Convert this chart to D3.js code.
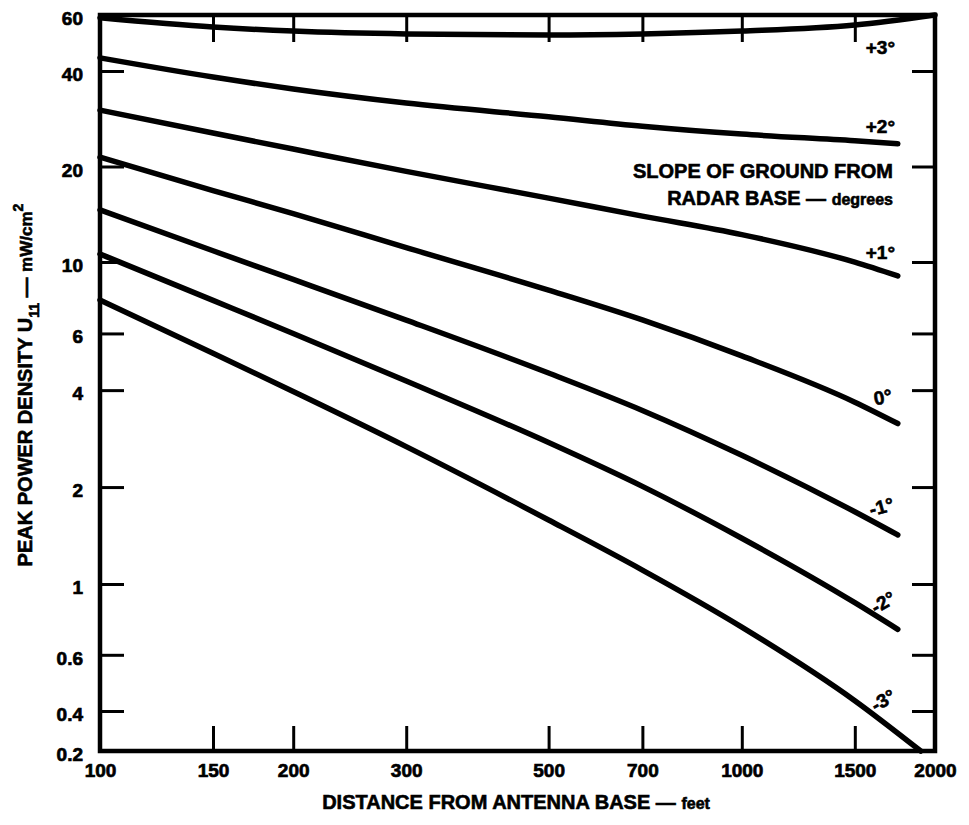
<!DOCTYPE html>
<html>
<head>
<meta charset="utf-8">
<script src="https://cdn.jsdelivr.net/npm/d3@7"></script>
<style>
  html, body { margin: 0; padding: 0; background: #fff; }
  svg { display: block; }
  text { font-family: "Liberation Sans", Arial, sans-serif; font-weight: bold; fill: #000; }
</style>
</head>
<body>
<svg id="chart" width="969" height="825"></svg>
<script>
// Distance from antenna base (feet) at which each curve is sampled
const distances = [100, 150, 200, 300, 500, 700, 1000, 1500, 1750];
const distancesPlus3 = [100, 150, 200, 300, 500, 700, 1000, 1500, 2000];
const distancesMinus3 = [100, 150, 200, 300, 500, 700, 1000, 1500, 1900];

// Peak power density U11 (mW/cm²) for each slope of ground
const plus3 = [58.8, 55.0, 53.4, 52.3, 51.9, 52.3, 53.4, 55.8, 60];
const plus2 = [44.0, 38.3, 35.1, 31.7, 28.7, 26.8, 25.3, 24.1, 23.6];
const plus1 = [30.1, 25.5, 22.7, 19.3, 15.9, 13.95, 12.2, 9.99, 9.05];
const zero = [21.4, 16.8, 14.2, 11.1, 8.18, 6.61, 5.11, 3.67, 3.15];
const minus1 = [14.6, 10.85, 8.83, 6.60, 4.52, 3.46, 2.51, 1.676, 1.42];
const minus2 = [10.6, 7.60, 6.0, 4.27, 2.75, 2.01, 1.387, 0.874, 0.721];
const minus3 = [7.62, 5.21, 3.96, 2.67, 1.58, 1.105, 0.733, 0.431, 0.2];

const slopeLabels = ["+3°", "+2°", "+1°", "0°", "-1°", "-2°", "-3°"];

// Axis ticks
const xTickValues = [100, 150, 200, 300, 500, 700, 1000, 1500, 2000];
const yTickValues = [0.2, 0.4, 0.6, 1, 2, 4, 6, 10, 20, 40, 60];

const series = [
  { label: slopeLabels[0], xs: distancesPlus3, ys: plus3 },
  { label: slopeLabels[1], xs: distances, ys: plus2 },
  { label: slopeLabels[2], xs: distances, ys: plus1 },
  { label: slopeLabels[3], xs: distances, ys: zero },
  { label: slopeLabels[4], xs: distances, ys: minus1 },
  { label: slopeLabels[5], xs: distances, ys: minus2 },
  { label: slopeLabels[6], xs: distancesMinus3, ys: minus3 }
];

const svg = d3.select("#chart");
const plotLeft = 100, plotRight = 935, plotTop = 15, plotBottom = 751;

const x = d3.scaleLog().domain([100, 2000]).range([plotLeft, plotRight]);
// Logarithmic scale, compressed at both ends of the printed axis
const y = d3.scaleLog()
  .domain([0.2, 0.4, 1, 10, 40, 60])
  .range([plotBottom, 711, 584, 262, 71, plotTop]);

// Inward ticks on all four sides
const yInner = yTickValues.filter(v => v > 0.2 && v < 60);
const xInner = xTickValues.filter(v => v > 100 && v < 2000);

const leftAxis = svg.append("g").attr("transform", `translate(${plotLeft},0)`)
  .call(d3.axisLeft(y).tickValues(yTickValues).tickSizeInner(-24).tickSizeOuter(0)
    .tickPadding(17).tickFormat(d => String(d)));
leftAxis.selectAll(".tick line").filter(d => d === 0.2 || d === 60).remove();

svg.append("g").attr("transform", `translate(${plotRight},0)`)
  .call(d3.axisRight(y).tickValues(yInner).tickSizeInner(-23).tickSizeOuter(0).tickFormat(""));

const bottomAxis = svg.append("g").attr("transform", `translate(0,${plotBottom})`)
  .call(d3.axisBottom(x).tickValues(xTickValues).tickSizeInner(-25).tickSizeOuter(0)
    .tickPadding(13).tickFormat(d => String(d)));
bottomAxis.selectAll(".tick line").filter(d => d === 100 || d === 2000).remove();

svg.append("g").attr("transform", `translate(0,${plotTop})`)
  .call(d3.axisTop(x).tickValues(xInner).tickSizeInner(-27).tickSizeOuter(0).tickFormat(""));

svg.selectAll(".domain").remove();
svg.selectAll(".tick line").attr("stroke", "#000").attr("stroke-width", 3);
svg.selectAll(".tick text")
  .style("font-size", "19px").style("font-family", "'Liberation Sans', Arial, sans-serif")
  .style("font-weight", "bold").attr("fill", "#000")
  .attr("stroke", "#000").attr("stroke-width", 0.7);
leftAxis.selectAll(".tick text").attr("dy", "0.5em");

// Plot frame
svg.append("rect")
  .attr("x", plotLeft).attr("y", plotTop)
  .attr("width", plotRight - plotLeft).attr("height", plotBottom - plotTop)
  .attr("fill", "none").attr("stroke", "#000").attr("stroke-width", 4.5);

// Curves
const line = d3.line()
  .x(d => x(d[0]))
  .y(d => y(d[1]))
  .curve(d3.curveMonotoneX);

svg.append("g").selectAll("path")
  .data(series)
  .join("path")
  .attr("d", s => line(s.xs.map((v, i) => [v, s.ys[i]])))
  .attr("fill", "none")
  .attr("stroke", "#000")
  .attr("stroke-width", 5.5)
  .attr("stroke-linecap", "round");

// Slope labels near the curve ends
const labelPos = [
  { x: 895, y: 54, r: 0 },
  { x: 895, y: 133, r: 0 },
  { x: 895, y: 259, r: 0 },
  { x: 893, y: 402, r: -10 },
  { x: 895, y: 510, r: -15 },
  { x: 897, y: 602, r: -30 },
  { x: 897, y: 700, r: -30 }
];
svg.append("g").selectAll("text")
  .data(series)
  .join("text")
  .attr("transform", (s, i) => `translate(${labelPos[i].x},${labelPos[i].y}) rotate(${labelPos[i].r})`)
  .attr("text-anchor", "end")
  .style("font-size", "19px")
  .attr("stroke", "#000").attr("stroke-width", 0.6)
  .text(s => s.label);

// Legend note
svg.append("text")
  .attr("x", 893).attr("y", 178)
  .attr("text-anchor", "end")
  .style("font-size", "20px")
  .attr("stroke", "#000").attr("stroke-width", 0.6)
  .text("SLOPE OF GROUND FROM");
const note2 = svg.append("text")
  .attr("x", 893).attr("y", 205)
  .attr("text-anchor", "end")
  .style("font-size", "20px")
  .attr("stroke", "#000").attr("stroke-width", 0.6);
note2.append("tspan").text("RADAR BASE — ");
note2.append("tspan").style("font-size", "16px").text("degrees");

// X-axis title
const xt = svg.append("text")
  .attr("x", 516).attr("y", 809)
  .attr("text-anchor", "middle")
  .style("font-size", "20px")
  .attr("stroke", "#000").attr("stroke-width", 0.6);
xt.append("tspan").text("DISTANCE FROM ANTENNA BASE — ");
xt.append("tspan").style("font-size", "16px").text("feet");

// Y-axis title
const yt = svg.append("text")
  .attr("transform", "translate(32,385) rotate(-90)")
  .attr("text-anchor", "middle")
  .style("font-size", "20px")
  .attr("stroke", "#000").attr("stroke-width", 0.6);
yt.append("tspan").text("PEAK POWER DENSITY U");
yt.append("tspan").attr("dy", 7).style("font-size", "14px").text("11");
yt.append("tspan").attr("dy", -7).text(" — ");
yt.append("tspan").style("font-size", "17px").text("mW/cm");
yt.append("tspan").attr("dy", -9).style("font-size", "14px").text("2");
</script>
</body>
</html>
